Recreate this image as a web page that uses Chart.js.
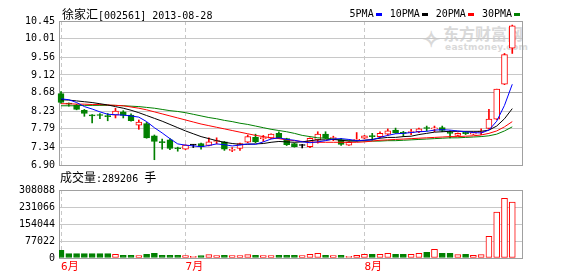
<!DOCTYPE html>
<html>
<head>
<meta charset="utf-8">
<script src="https://cdn.jsdelivr.net/npm/chart.js@4.4.1/dist/chart.umd.min.js"></script>
<style>
body { margin: 0; background: #fff; }
#wrap { position: relative; width: 578px; height: 276px; overflow: hidden;
        font-family: "DejaVu Sans Mono", "Noto Sans CJK SC", monospace; font-size: 10px; color: #000; }
canvas { position: absolute; left: 0; }
#price { top: 0; }
#vol { top: 180px; }
.t { position: absolute; white-space: nowrap; line-height: 14px; z-index: 2; }
.cjk { font-family: "Noto Sans CJK SC", sans-serif; font-size: 12px; }
#legend { position: absolute; right: 58px; top: 7px; display: flex; gap: 8px; line-height: 14px; z-index: 2; }
#legend span.k { display: inline-block; width: 6px; height: 3px; margin-left: 2px; vertical-align: 1px; }
#wm { position: absolute; left: 422px; top: 24px; width: 110px; height: 30px; color: #d9d9d9; font-weight: bold; z-index: 0; }
#wm div { position: absolute; white-space: nowrap; }
</style>
</head>
<body>
<div id="wrap">
  <div id="wm">
    <div style="left:0;top:2px;font-family:'Noto Sans CJK SC';font-size:22px;line-height:22px;">&#x2727;</div>
    <div style="left:21px;top:0;font-family:'Noto Sans CJK SC';font-size:16px;line-height:18px;">东方财富网</div>
    <div style="left:23px;top:18px;font-family:'DejaVu Sans';font-size:9px;line-height:10px;letter-spacing:0.3px;">eastmoney.com</div>
  </div>
  <canvas id="price" width="578" height="175"></canvas>
  <canvas id="vol" width="578" height="96"></canvas>
  <div class="t" id="title" style="left:62px;top:7px;"></div>
  <div id="legend"></div>
  <div class="t" id="vlabel" style="left:60px;top:170px;"></div>
</div>
<script>
// ---------------------------------------------------------------- data
const stockName = '徐家汇';
const stockCode = '002561';
const quoteDate = '2013-08-28';
const lastVolume = 289206;

const opens  = [8.66, 8.41, 8.38, 8.25, 8.12, 8.13, 8.12, 8.13, 8.21, 8.13,
                7.88, 7.92, 7.62, 7.46, 7.52, 7.31, 7.29, 7.39, 7.43, 7.38,
                7.48, 7.47, 7.26, 7.31, 7.46, 7.58, 7.55, 7.56, 7.68, 7.55,
                7.43, 7.38, 7.35, 7.52, 7.66, 7.55, 7.52, 7.39, 7.51, 7.56,
                7.61, 7.60, 7.66, 7.76, 7.69, 7.70, 7.72, 7.81, 7.79, 7.82,
                7.69, 7.63, 7.71, 7.66, 7.71, 7.80, 8.03, 8.89, 9.78];
const highs  = [8.71, 8.43, 8.40, 8.27, 8.14, 8.17, 8.17, 8.30, 8.24, 8.16,
                8.01, 7.95, 7.64, 7.54, 7.55, 7.34, 7.40, 7.41, 7.44, 7.57,
                7.57, 7.48, 7.33, 7.44, 7.64, 7.66, 7.63, 7.67, 7.72, 7.56,
                7.44, 7.41, 7.57, 7.72, 7.72, 7.61, 7.56, 7.47, 7.70, 7.63,
                7.68, 7.72, 7.79, 7.81, 7.73, 7.78, 7.81, 7.86, 7.86, 7.86,
                7.74, 7.69, 7.72, 7.71, 7.79, 8.27, 8.77, 9.65, 10.35];
const lows   = [8.42, 8.35, 8.26, 8.10, 7.94, 8.04, 7.99, 8.06, 8.06, 7.98,
                7.78, 7.56, 7.03, 7.29, 7.28, 7.24, 7.28, 7.33, 7.29, 7.37,
                7.42, 7.26, 7.23, 7.26, 7.45, 7.45, 7.48, 7.55, 7.55, 7.38,
                7.34, 7.32, 7.33, 7.44, 7.55, 7.50, 7.38, 7.38, 7.49, 7.55,
                7.51, 7.58, 7.63, 7.68, 7.60, 7.65, 7.70, 7.74, 7.72, 7.72,
                7.57, 7.62, 7.65, 7.65, 7.65, 7.79, 8.02, 8.88, 9.65];
const closes = [8.44, 8.40, 8.27, 8.17, 8.11, 8.12, 8.09, 8.23, 8.12, 7.99,
                7.96, 7.57, 7.48, 7.45, 7.31, 7.30, 7.39, 7.39, 7.35, 7.47,
                7.49, 7.29, 7.27, 7.43, 7.60, 7.47, 7.56, 7.66, 7.57, 7.40,
                7.35, 7.38, 7.56, 7.66, 7.56, 7.56, 7.41, 7.46, 7.52, 7.62,
                7.60, 7.68, 7.74, 7.69, 7.68, 7.71, 7.79, 7.80, 7.80, 7.75,
                7.68, 7.68, 7.67, 7.70, 7.72, 8.03, 8.77, 9.62, 10.33];
const volumes = [34900, 19700, 19700, 19700, 19700, 19700, 19700, 16700, 12100, 12100,
                 10600, 16700, 21200, 12100, 12100, 12100, 10600, 7600, 10600, 15200,
                 10600, 12100, 10600, 10600, 15200, 12100, 10600, 10600, 12100, 12100,
                 12100, 10600, 16700, 21200, 12100, 10600, 12100, 7600, 12100, 16700,
                 16700, 16700, 21200, 16700, 16700, 16700, 21200, 25800, 39500, 21200,
                 21200, 15200, 16700, 12100, 15200, 98700, 207900, 270200, 253500];

const ma5  = [8.53, 8.51, 8.44, 8.34, 8.28, 8.21, 8.15, 8.14, 8.13, 8.11,
              8.08, 7.97, 7.82, 7.69, 7.55, 7.42, 7.39, 7.37, 7.35, 7.38,
              7.42, 7.40, 7.37, 7.39, 7.42, 7.41, 7.47, 7.54, 7.57, 7.53,
              7.51, 7.47, 7.45, 7.47, 7.50, 7.54, 7.55, 7.53, 7.50, 7.51,
              7.52, 7.58, 7.63, 7.67, 7.68, 7.70, 7.72, 7.73, 7.76, 7.77,
              7.76, 7.74, 7.72, 7.70, 7.69, 7.76, 7.98, 8.37, 8.89];
const ma10 = [8.51, 8.50, 8.48, 8.46, 8.44, 8.41, 8.38, 8.34, 8.30, 8.25,
              8.19, 8.12, 8.05, 7.98, 7.90, 7.82, 7.74, 7.67, 7.60, 7.55,
              7.50, 7.46, 7.43, 7.41, 7.41, 7.42, 7.43, 7.46, 7.48, 7.47,
              7.46, 7.47, 7.50, 7.52, 7.52, 7.53, 7.51, 7.49, 7.49, 7.51,
              7.53, 7.56, 7.58, 7.58, 7.60, 7.61, 7.65, 7.68, 7.71, 7.72,
              7.73, 7.73, 7.73, 7.73, 7.73, 7.76, 7.86, 8.04, 8.29];
const ma20 = [8.41, 8.41, 8.40, 8.40, 8.39, 8.39, 8.38, 8.37, 8.36, 8.33,
              8.30, 8.26, 8.21, 8.16, 8.11, 8.06, 8.01, 7.96, 7.91, 7.87,
              7.83, 7.79, 7.75, 7.71, 7.67, 7.63, 7.60, 7.57, 7.55, 7.52,
              7.50, 7.48, 7.47, 7.46, 7.46, 7.46, 7.46, 7.46, 7.46, 7.47,
              7.49, 7.51, 7.52, 7.53, 7.54, 7.55, 7.56, 7.57, 7.58, 7.59,
              7.60, 7.60, 7.61, 7.62, 7.64, 7.68, 7.74, 7.84, 7.97];
const ma30 = [8.36, 8.36, 8.36, 8.37, 8.37, 8.37, 8.37, 8.37, 8.36, 8.35,
              8.34, 8.32, 8.30, 8.27, 8.24, 8.22, 8.19, 8.15, 8.11, 8.07,
              8.04, 8.00, 7.97, 7.93, 7.90, 7.86, 7.82, 7.78, 7.75, 7.72,
              7.68, 7.63, 7.60, 7.57, 7.56, 7.54, 7.52, 7.51, 7.50, 7.49,
              7.49, 7.49, 7.50, 7.50, 7.51, 7.52, 7.53, 7.54, 7.55, 7.56,
              7.57, 7.57, 7.58, 7.59, 7.60, 7.62, 7.66, 7.74, 7.84];

const maNames  = ['5PMA', '10PMA', '20PMA', '30PMA'];
const maColors = ['#0000ff', '#000000', '#ff0000', '#008000'];
const maSeries = [ma5, ma10, ma20, ma30];

const priceTicks = [6.90, 7.34, 7.79, 8.23, 8.68, 9.12, 9.56, 10.01, 10.45];
const volTicks = [0, 77022, 154044, 231066, 308088];
const monthIdx = [0, 16, 39];
const monthLabels = ['6月', '7月', '8月'];

// ---------------------------------------------------------------- colours
const UP = '#ff0000', DOWN = '#008000', FLAT = '#000000';
const GRID = '#c8c8c8', FRAME = '#a0a0a0';
const TICK_FONT = { family: 'DejaVu Sans Mono', size: 10 };

const dir = closes.map((c, i) => c > opens[i] ? 1 : (c < opens[i] ? -1 : 0));
const lineCol = dir.map(d => d > 0 ? UP : (d < 0 ? DOWN : FLAT));
const fillCol = dir.map(d => d > 0 ? '#ffffff' : (d < 0 ? DOWN : FLAT));

// ---------------------------------------------------------------- text bits
document.getElementById('title').innerHTML =
    '<span class="cjk">' + stockName + '</span>[' + stockCode + '] ' + quoteDate;
document.getElementById('vlabel').innerHTML =
    '<span class="cjk">成交量</span>:' + lastVolume + ' <span class="cjk">手</span>';
document.getElementById('legend').innerHTML = maNames.map((n, k) =>
    '<span>' + n + '<span class="k" style="background:' + maColors[k] + '"></span></span>').join('');

// box round the plot area
const frame = {
    id: 'frame',
    beforeDatasetsDraw(chart) {
        const a = chart.chartArea, c = chart.ctx;
        c.save();
        c.strokeStyle = FRAME;
        c.lineWidth = 1;
        c.strokeRect(Math.round(a.left) + 0.5, Math.round(a.top) + 0.5,
                     Math.round(a.right - a.left), Math.round(a.bottom - a.top));
        c.restore();
    }
};

function xAxis(showLabels) {
    return {
        type: 'linear', min: -0.26, max: 59.25, offset: false,
        afterBuildTicks: s => { s.ticks = monthIdx.map(v => ({ value: v })); },
        afterFit: s => { s.height = showLabels ? 18 : 10; },
        grid: { color: GRID, drawTicks: false, offset: false },
        border: { display: false, dash: [4, 3] },
        ticks: {
            display: showLabels, autoSkip: false, maxRotation: 0, align: 'start',
            padding: 3, color: '#ff0000',
            font: { family: 'DejaVu Sans Mono, Noto Sans CJK SC', size: 11 },
            callback: v => monthLabels[monthIdx.indexOf(v)]
        }
    };
}

// ---------------------------------------------------------------- price chart
new Chart(document.getElementById('price'), {
    type: 'bar',
    data: {
        datasets: [
            ...maSeries.map((s, k) => ({
                type: 'line', label: maNames[k], order: 1,
                data: s.map((v, i) => ({ x: i, y: v })),
                borderColor: maColors[k], borderWidth: 1, pointRadius: 0, tension: 0
            })),
            {
                label: 'body', order: 2, grouped: false, clip: false,
                data: opens.map((o, i) => ({ x: i, y: [o, closes[i]] })),
                backgroundColor: fillCol, borderColor: lineCol, borderWidth: 1,
                borderSkipped: false, barThickness: 6, minBarLength: 1
            },
            {
                label: 'wick', order: 3, grouped: false, clip: false,
                data: lows.map((l, i) => ({ x: i, y: [l, highs[i]] })),
                backgroundColor: lineCol, borderWidth: 0, barThickness: 1
            }
        ]
    },
    options: {
        responsive: false, animation: false,
        layout: { padding: { top: 21, right: 56, bottom: 0, left: 0 } },
        plugins: { legend: { display: false }, tooltip: { enabled: false } },
        scales: {
            x: xAxis(false),
            y: {
                type: 'linear', min: 6.90, max: 10.45,
                afterBuildTicks: s => { s.ticks = priceTicks.map(v => ({ value: v })); },
                afterFit: s => { s.width = 59; },
                grid: { color: c => (c.tick && c.tick.value === 8.68) ? FRAME : GRID, drawTicks: false },
                border: { display: false },
                ticks: { color: '#000', padding: 4, font: TICK_FONT, callback: v => v.toFixed(2) }
            }
        }
    },
    plugins: [frame]
});

// ---------------------------------------------------------------- volume chart
new Chart(document.getElementById('vol'), {
    type: 'bar',
    data: {
        datasets: [{
            label: 'volume', grouped: false,
            data: volumes.map((v, i) => ({ x: i, y: v })),
            backgroundColor: dir.map(d => d < 0 ? DOWN : '#ffffff'),
            borderColor: dir.map(d => d < 0 ? DOWN : UP),
            borderWidth: 1, borderSkipped: false, barThickness: 6
        }]
    },
    options: {
        responsive: false, animation: false,
        layout: { padding: { top: 10, right: 56, bottom: 0, left: 0 } },
        plugins: { legend: { display: false }, tooltip: { enabled: false } },
        scales: {
            x: xAxis(true),
            y: {
                type: 'linear', min: 0, max: 308088,
                afterBuildTicks: s => { s.ticks = volTicks.map(v => ({ value: v })); },
                afterFit: s => { s.width = 59; },
                grid: { color: GRID, drawTicks: false },
                border: { display: false },
                ticks: { color: '#000', padding: 4, font: TICK_FONT, callback: v => String(v) }
            }
        }
    },
    plugins: [frame]
});
</script>
</body>
</html>
